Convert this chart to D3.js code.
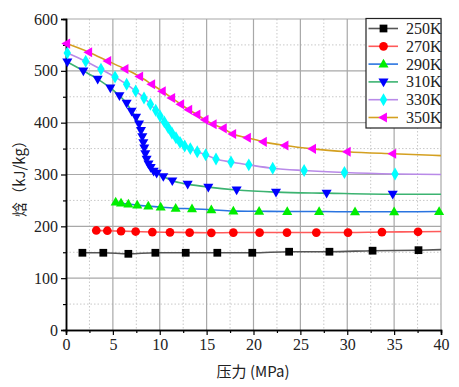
<!DOCTYPE html>
<html>
<head>
<meta charset="utf-8">
<script src="https://cdn.jsdelivr.net/npm/d3@7"></script>
<style>
  body { margin: 0; background: #fff; }
  .serif, .serif text { font-family: "Liberation Serif", "Times New Roman", serif !important; }
  .cjk { font-family: "Noto Sans CJK SC", sans-serif; }
</style>
</head>
<body>
<svg id="chart" width="459" height="387"></svg>
<script>
// series data: pressure (MPa) / enthalpy (kJ/kg) at the markers, plus curve end value at 40 MPa
const labels = ["250K", "270K", "290K", "310K", "330K", "350K"];

const p250 = [1.75, 3.98, 6.65, 9.53, 12.77, 16.14, 19.87, 23.8, 28.1, 32.7, 37.6];
const h250 = [149, 149, 147, 149, 149, 149, 149, 151, 151, 153, 154];
const p270 = [3.23, 4.41, 5.87, 7.43, 9.21, 11.09, 13.19, 15.5, 17.85, 20.65, 23.57, 26.7, 30.08, 33.7, 37.55];
const h270 = [192, 191.5, 190.8, 190, 189, 188.5, 188, 187.5, 188, 188, 188, 188, 188, 189, 189.5];
const p290 = [5.3, 5.87, 6.65, 7.6, 8.78, 10.1, 11.7, 13.44, 15.5, 17.85, 20.6, 23.6, 27, 30.83, 35.0, 39.8];
const h290 = [247, 245, 243, 241, 239, 237, 235, 234, 232, 229.4, 229, 228.5, 228.5, 228, 228, 228.5];
const p310 = [0.14, 1.85, 3.38, 4.73, 5.7, 6.47, 7.0, 7.47, 7.79, 8.0, 8.14, 8.25, 8.35, 8.46, 8.6, 8.8, 9.03, 9.35, 9.67, 10.38, 11.34, 12.98, 15.18, 18.2, 22.4, 27.8, 34.85];
const h310 = [517, 500, 484, 467, 452, 437.5, 422, 410.6, 397.6, 385, 373, 361.6, 351, 340, 329.6, 320.5, 313.5, 306.5, 302.6, 296, 287.8, 281.4, 275.6, 270, 266, 264, 262];
const p330 = [0.14, 2.1, 3.73, 5.23, 6.47, 7.43, 8.32, 9.0, 9.57, 10.03, 10.49, 10.9, 11.3, 11.73, 12.16, 12.66, 13.26, 14.0, 14.9, 16.0, 17.6, 19.5, 22.05, 25.4, 29.7, 35.1];
const h330 = [534.5, 518.5, 503, 488, 474, 461, 447.7, 435.6, 424, 413, 401.5, 390.5, 380, 371, 362, 355, 350, 344, 338, 330, 324, 318.6, 312, 307.6, 303.8, 301];
const p350 = [0.07, 2.42, 4.45, 6.29, 7.86, 9.14, 10.27, 11.27, 12.23, 13.09, 13.97, 14.83, 15.7, 16.78, 17.78, 19.35, 21.05, 23.36, 26.3, 30.0, 34.85];
const h350 = [552.5, 536, 519, 503.6, 489, 474, 460.6, 447.7, 435.6, 425, 415.6, 405.4, 397, 389, 378, 371, 363, 356, 349.5, 344, 340];
const hEnd = [155, 190, 228.5, 262, 300, 336.5];

const xTicks = [0, 5, 10, 15, 20, 25, 30, 35, 40];
const yTicks = [0, 100, 200, 300, 400, 500, 600];

const lineColors = ["#555555", "#ff5a5a", "#2a74e0", "#3cb371", "#b98ae8", "#d4a020"];
const markColors = ["#000000", "#ff0000", "#00ee00", "#0000ff", "#00ffff", "#ff00ff"];
const shapes = [d3.symbolSquare, d3.symbolCircle, "up", "down", d3.symbolDiamond, "left"];

const series = [[p250, h250], [p270, h270], [p290, h290], [p310, h310], [p330, h330], [p350, h350]];

const svg = d3.select("#chart");
const L = 66, R = 441, T = 19, B = 330;
const x = d3.scaleLinear().domain([0, 40]).range([L, R]);
const y = d3.scaleLinear().domain([0, 600]).range([B, T]);

// grid
const g = svg.append("g");
d3.range(2.5, 40, 5).forEach(v => g.append("line").attr("x1", x(v)).attr("x2", x(v)).attr("y1", T).attr("y2", B)
  .attr("stroke", "#c8c8c8").attr("stroke-dasharray", "1.5,2"));
d3.range(50, 600, 100).forEach(v => g.append("line").attr("x1", L).attr("x2", R).attr("y1", y(v)).attr("y2", y(v))
  .attr("stroke", "#c8c8c8").attr("stroke-dasharray", "1.5,2"));
xTicks.slice(1).forEach(v => g.append("line").attr("x1", x(v)).attr("x2", x(v)).attr("y1", T).attr("y2", B)
  .attr("stroke", "#a8a8a8").attr("stroke-width", 1.2));
yTicks.slice(1).forEach(v => g.append("line").attr("x1", L).attr("x2", R).attr("y1", y(v)).attr("y2", y(v))
  .attr("stroke", "#a8a8a8").attr("stroke-width", 1.2));

// axes
const xAxis = svg.append("g").attr("class", "serif").attr("transform", `translate(0,${B})`)
  .call(d3.axisBottom(x).tickValues(xTicks).tickSize(5).tickPadding(4));
xAxis.append("g").call(d3.axisBottom(x).tickValues(d3.range(2.5, 40, 5)).tickSize(3).tickFormat(""));
const yAxis = svg.append("g").attr("class", "serif").attr("transform", `translate(${L},0)`)
  .call(d3.axisLeft(y).tickValues(yTicks).tickSize(5).tickPadding(3));
yAxis.append("g").call(d3.axisLeft(y).tickValues(d3.range(50, 600, 100)).tickSize(3).tickFormat(""));
svg.selectAll(".domain").attr("stroke", "#000").attr("stroke-width", 1.5);
svg.selectAll(".tick line").attr("stroke", "#000").attr("stroke-width", 1.2);
svg.selectAll(".serif").attr("font-size", 16);
svg.selectAll(".tick text").attr("fill", "#222");

// curves
const line = d3.line().x(d => x(d[0])).y(d => y(d[1])).curve(d3.curveMonotoneX);
function tri(dir, s) {
  const pts = { up: [[0, -s], [s * 0.95, s * 0.65], [-s * 0.95, s * 0.65]],
    down: [[0, s], [s * 0.95, -s * 0.65], [-s * 0.95, -s * 0.65]],
    left: [[-s, 0], [s * 0.65, -s * 0.95], [s * 0.65, s * 0.95]] }[dir];
  return "M" + pts.map(p => p.join(",")).join("L") + "Z";
}
function marker(i) {
  const sh = shapes[i];
  if (typeof sh === "string") return tri(sh, 5.3);
  return d3.symbol().type(sh).size(sh === d3.symbolDiamond ? 48 : 60)();
}

series.forEach(([ps, hs], i) => {
  const pts = ps.map((p, k) => [p, hs[k]]);
  svg.append("path").attr("d", line(pts.concat([[40, hEnd[i]]])))
    .attr("fill", "none").attr("stroke", lineColors[i]).attr("stroke-width", 1.6);
});
series.forEach(([ps, hs], i) => {
  svg.append("g").selectAll("path").data(ps.map((p, k) => [p, hs[k]])).join("path")
    .attr("d", marker(i)).attr("transform", d => `translate(${x(d[0])},${y(d[1])})`)
    .attr("fill", markColors[i]);
});

// legend
const lg = svg.append("g");
lg.append("rect").attr("x", 366).attr("y", 18.5).attr("width", 75).attr("height", 109.5)
  .attr("fill", "#fff").attr("stroke", "#222").attr("stroke-width", 1.2);
labels.forEach((t, i) => {
  const yy = 28.5 + i * 17.8;
  lg.append("line").attr("x1", 368.5).attr("x2", 398).attr("y1", yy).attr("y2", yy)
    .attr("stroke", lineColors[i]).attr("stroke-width", 1.6);
  lg.append("path").attr("d", marker(i)).attr("transform", `translate(383.5,${yy})`).attr("fill", markColors[i]);
  lg.append("text").attr("class", "serif").attr("x", 406).attr("y", yy + 5.5).attr("font-size", 16)
    .attr("fill", "#222").text(t);
});

// axis titles
svg.append("text").attr("class", "cjk").attr("transform", "translate(25,175) rotate(-90)")
  .attr("text-anchor", "middle").attr("font-size", 15).attr("fill", "#222").text("焓（kJ/kg）");
svg.append("text").attr("class", "cjk").attr("x", 253).attr("y", 377).attr("text-anchor", "middle")
  .attr("font-size", 15).attr("fill", "#222").text("压力 (MPa)");
</script>
</body>
</html>
